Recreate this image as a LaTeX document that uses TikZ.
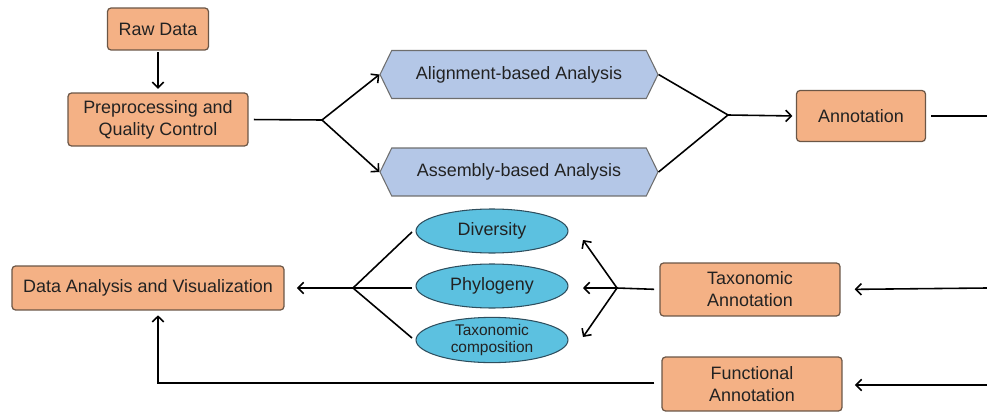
\documentclass[tikz,border=0pt]{standalone}
\usepackage{fontspec}
\setmainfont{Liberation Sans}
\usetikzlibrary{arrows.meta,shapes.geometric,shapes.symbols,positioning}

\definecolor{boxfill}{HTML}{F4B185}
\definecolor{boxline}{HTML}{6B5646}
\definecolor{hexfill}{HTML}{B4C7E7}
\definecolor{hexline}{HTML}{6E6E6E}
\definecolor{ovalfill}{HTML}{5CC1E0}
\definecolor{ovalline}{HTML}{2E4E5E}
\definecolor{txt}{HTML}{222222}

\tikzset{
  procbox/.style={draw=boxline, fill=boxfill, line width=0.7pt, rounded corners=2pt,
    align=center, text=txt, inner sep=0pt},
  hexbox/.style={draw=hexline, fill=hexfill, line width=0.6pt, shape=signal,
    signal to=west and east, signal pointer angle=128, text=txt, inner sep=0pt,
    minimum width=5.56cm, minimum height=0.96cm},
  ovalbox/.style={draw=ovalline, fill=ovalfill, line width=0.6pt, ellipse, align=center,
    text=txt, inner sep=0pt, minimum width=3.04cm, minimum height=0.88cm},
  arr/.style={line width=0.9pt, -{Straight Barb[length=3.2pt,width=6.5pt]}},
  plain/.style={line width=0.9pt}
}

\begin{document}
\begin{tikzpicture}[x=0.02cm, y=-0.02cm, font=\fontsize{10.2}{12.5}\selectfont]
    \useasboundingbox (0,0) rectangle (987,412);

    % Boxes
    \node [procbox, minimum width=2.02cm, minimum height=0.84cm] (raw) at (158,29) {Raw Data};
    \node [procbox, minimum width=3.6cm, minimum height=1.06cm] (prep) at (158,119.5) {Preprocessing and\\Quality Control};
    \node [hexbox] (align) at (519,74.5) {Alignment-based Analysis};
    \node [hexbox] (assem) at (519,172) {Assembly-based Analysis};
    \node [procbox, minimum width=2.58cm, minimum height=1.02cm] (annot) at (861,116) {Annotation};
    \node [procbox, minimum width=5.44cm, minimum height=0.88cm] (data) at (148,288) {Data Analysis and Visualization};
    \node [procbox, minimum width=3.6cm, minimum height=1.06cm] (tax) at (750,289.5) {Taxonomic\\Annotation};
    \node [procbox, minimum width=3.6cm, minimum height=1.08cm] (func) at (752,384) {Functional\\Annotation};

    % Ovals
    \node [ovalbox] (div) at (492,231) {Diversity};
    \node [ovalbox] (phy) at (492,286) {Phylogeny};
    \node [ovalbox, font=\fontsize{8.8}{10}\selectfont] (comp) at (492,340) {Taxonomic\\composition};

    % Junctions and free ends
    \coordinate (jprep) at (322,120);
    \coordinate (jann) at (728,115);
    \coordinate (jtax) at (617,288);
    \coordinate (jres) at (353,288);
    \coordinate (outR) at (987,116);
    \coordinate (inR1) at (987,288);
    \coordinate (inR2) at (987,385);
    \coordinate (divin) at (583,240);
    \coordinate (phyin) at (583,288);
    \coordinate (compin) at (583,337);
    \coordinate (divout) at (412,232);
    \coordinate (phyout) at (412,288);
    \coordinate (compout) at (412,338);
    \coordinate (fup) at (158,310);

    % Arrows and lines
    \draw [arr, shorten >=2pt, shorten <=1pt] (raw) -- (prep);
    \draw [plain, shorten <=3pt] (prep.east) -- (jprep);
    \draw [arr] (jprep) -- (align.west);
    \draw [arr] (jprep) -- (assem.west);
    \draw [plain] (align.east) -- (jann);
    \draw [plain] (assem.east) -- (jann);
    \draw [arr, shorten >=2pt] (jann) -- (annot.west);
    \draw [plain, shorten <=3pt] (annot.east) -- (outR);

    \draw [arr, shorten >=8pt] (inR1) -- (tax.east);
    \draw [arr, shorten >=7pt] (inR2) -- (func.east |- inR2);
    \draw [plain, shorten <=3pt] (tax.west) -- (jtax);
    \draw [arr] (jtax) -- (divin);
    \draw [arr] (jtax) -- (phyin);
    \draw [arr] (jtax) -- (compin);

    \draw [plain] (divout) -- (jres);
    \draw [plain] (phyout) -- (jres);
    \draw [plain] (compout) -- (jres);
    \draw [arr, shorten >=7pt] (jres) -- (data.east);

    \draw [arr, shorten <=4pt, shorten >=3pt] (func.west |- 0,383) -| (fup);
\end{tikzpicture}
\end{document}
